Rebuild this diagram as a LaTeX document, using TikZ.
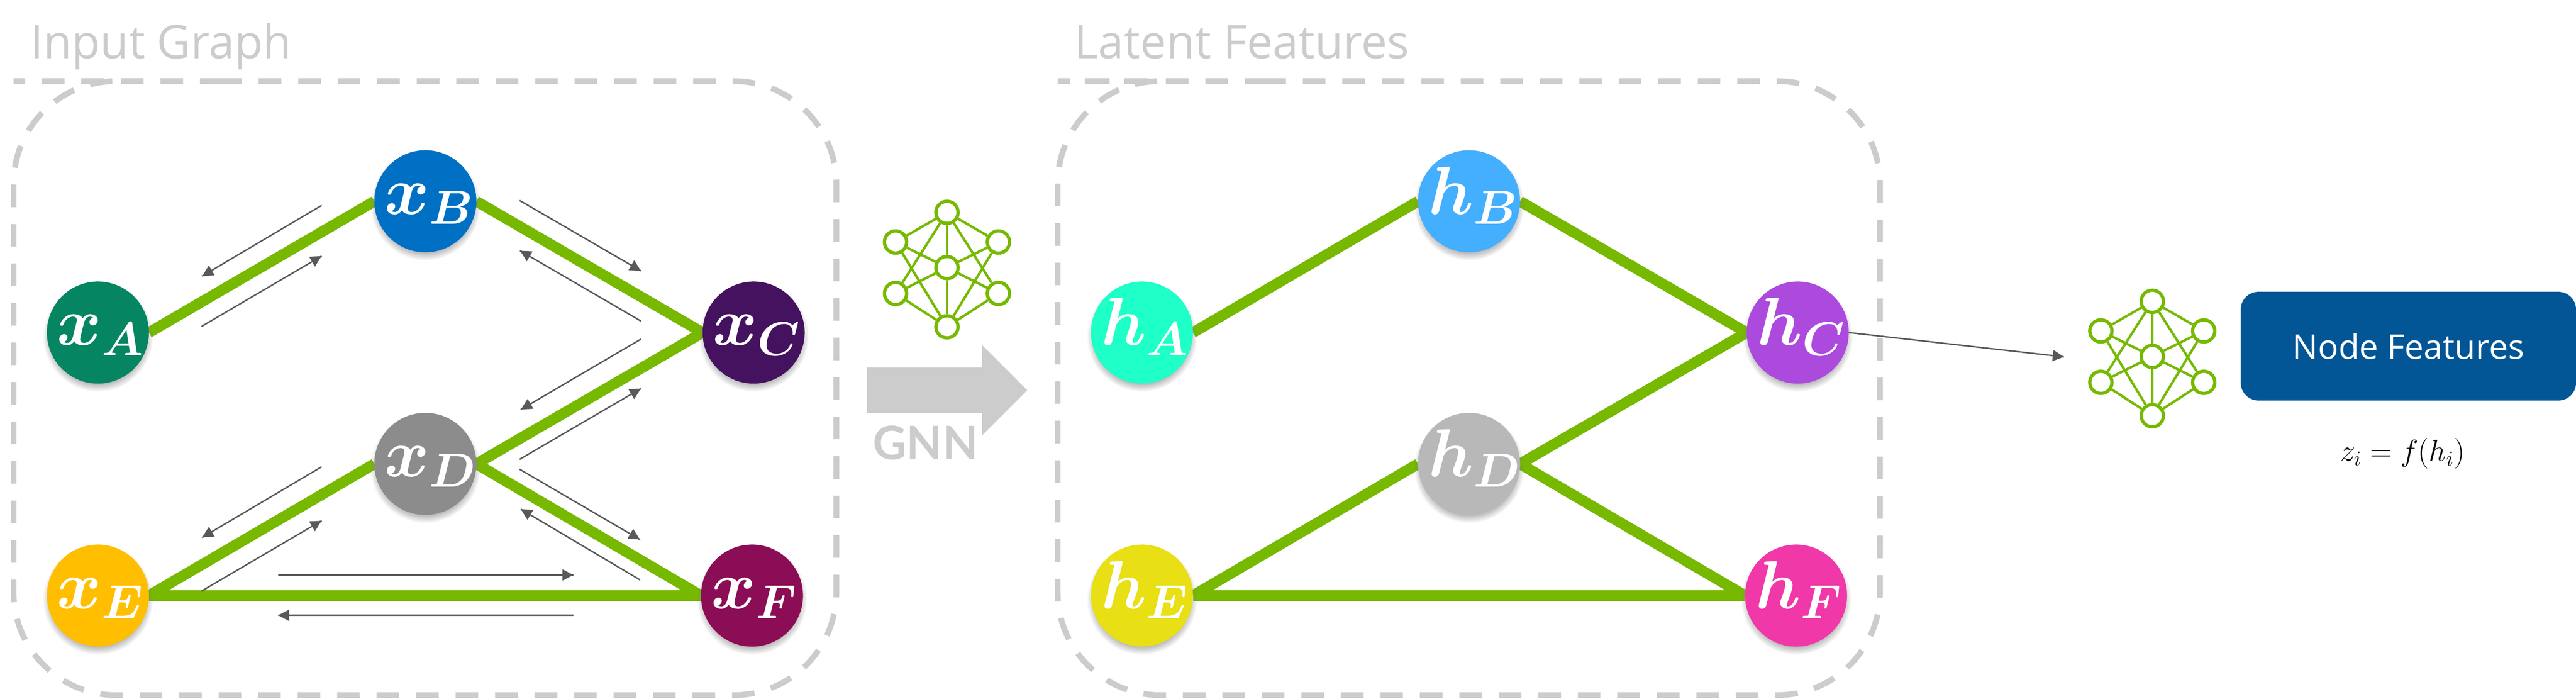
\documentclass[tikz,border=0pt]{standalone}
\usepackage{fix-cm}
\usepackage{amsmath}
\usepackage[no-math]{fontspec}
\usepackage{tikz}
\usetikzlibrary{arrows.meta}
\usetikzlibrary{backgrounds}
\usetikzlibrary{decorations.markings}
\usetikzlibrary{positioning}
\usetikzlibrary{shadows}
\newfontfamily\labelfont{Open Sans}
\newfontfamily\gnnfont{Lato}
\definecolor{nvgreen}{HTML}{76B900}
\definecolor{softgray}{HTML}{CCCCCC}
\definecolor{flowgray}{HTML}{595959}
\definecolor{featblue}{HTML}{025696}
\definecolor{xa}{HTML}{058561}
\definecolor{xb}{HTML}{0070C5}
\definecolor{xc}{HTML}{45125F}
\definecolor{xd}{HTML}{8C8C8C}
\definecolor{xe}{HTML}{FFBF00}
\definecolor{xf}{HTML}{8B0D55}
\definecolor{ha}{HTML}{1FFFC8}
\definecolor{hb}{HTML}{44AEFF}
\definecolor{hc}{HTML}{AC4ADE}
\definecolor{hd}{HTML}{B8B8B8}
\definecolor{he}{HTML}{E8DF14}
\definecolor{hf}{HTML}{F038A8}
\tikzset{flow/.style = {draw=flowgray, line width=.035cm,
                        decoration={markings,
                                    mark=at position 1 with {\arrow[flowgray]{Triangle[length=.27cm, width=.27cm]}}},
                        postaction={decorate}}}
\tikzset{graphnode/.style = {circle, inner sep=0, outer sep=0, minimum size=2.48cm, text=white,
                             font=\fontsize{47}{50}\selectfont\boldmath,
                             circular drop shadow={shadow scale=1.08, shadow xshift=0cm, shadow yshift=-.09cm, opacity=.55}}}
\tikzset{graphedge/.style = {draw=nvgreen, line width=.26cm}}
\tikzset{dashbox/.style = {draw=softgray, line width=.14cm, rounded corners=2.5cm, dash pattern=on .55cm off .41cm}}
\tikzset{boxtitle/.style = {text=softgray, anchor=base west, inner sep=0, font=\labelfont\fontsize{32}{36}\selectfont}}
\tikzset{netnode/.style = {circle, draw=nvgreen, line width=.08cm, fill=white, inner sep=0, minimum size=.54cm}}
\tikzset{netedge/.style = {draw=nvgreen, line width=.06cm}}
\newcommand{\graphlabel}[2]{\smash{\makebox[0pt][l]{\hspace*{-.99cm}\raisebox{-.31cm}{$#1_{#2}$}}}}
\newcommand{\neticon}[3]{%
  \begin{scope}[shift={(#2, #3)}, name prefix=#1-]
    \node [netnode] (top) at (0, -1.34) {};
    \node [netnode] (upl) at (-1.25, -.62) {};
    \node [netnode] (upr) at (1.25, -.62) {};
    \node [netnode] (mid) at (0, 0) {};
    \node [netnode] (lowl) at (-1.25, .63) {};
    \node [netnode] (lowr) at (1.25, .63) {};
    \node [netnode] (bot) at (0, 1.44) {};
    \foreach \a/\b in {top/upl, top/upr, top/mid, top/lowl, top/lowr,
                       mid/upl, mid/upr, mid/lowl, mid/lowr, mid/bot,
                       bot/upl, bot/upr, bot/lowl, bot/lowr}
      \draw [netedge] (\a) -- (\b);
  \end{scope}}

\begin{document}
\begin{tikzpicture}[x=1cm, y=-1cm]
  \useasboundingbox (0, 0) rectangle (62.62, 16.98);

  \node [boxtitle] (inputtitle) at (.74, 1.42) {Input Graph};
  \node [boxtitle] (latenttitle) at (26.11, 1.42) {Latent Features};
  \draw [dashbox] (2.83, 1.97) -- (20.33, 1.97) -- (20.33, 16.89) -- (.33, 16.89) -- (.33, 1.97) -- cycle;
  \draw [dashbox] (28.21, 1.97) -- (45.70, 1.97) -- (45.70, 16.89) -- (25.71, 16.89) -- (25.71, 1.97) -- cycle;

  \node [graphnode, fill=xa] (xA) at (2.38, 8.08) {\graphlabel{x}{A}};
  \node [graphnode, fill=xb] (xB) at (10.34, 4.89) {\graphlabel{x}{B}};
  \node [graphnode, fill=xc] (xC) at (18.32, 8.08) {\graphlabel{x}{C}};
  \node [graphnode, fill=xd] (xD) at (10.34, 11.27) {\graphlabel{x}{D}};
  \node [graphnode, fill=xe] (xE) at (2.38, 14.47) {\graphlabel{x}{E}};
  \node [graphnode, fill=xf] (xF) at (18.28, 14.47) {\graphlabel{x}{F}};

  \node [graphnode, fill=ha] (hA) at (27.76, 8.08) {\graphlabel{h}{A}};
  \node [graphnode, fill=hb] (hB) at (35.71, 4.89) {\graphlabel{h}{B}};
  \node [graphnode, fill=hc] (hC) at (43.70, 8.08) {\graphlabel{h}{C}};
  \node [graphnode, fill=hd] (hD) at (35.71, 11.27) {\graphlabel{h}{D}};
  \node [graphnode, fill=he] (hE) at (27.76, 14.47) {\graphlabel{h}{E}};
  \node [graphnode, fill=hf] (hF) at (43.66, 14.47) {\graphlabel{h}{F}};

  \begin{scope}[on background layer]
    \foreach \p in {x, h} {
      \draw [graphedge] (\p A.east) -- (\p B.west);
      \draw [graphedge] (\p B.east) -- (\p C.west);
      \draw [graphedge] (\p C.west) -- (\p D.east);
      \draw [graphedge] (\p D.west) -- (\p E.east);
      \draw [graphedge] (\p D.east) -- (\p F.west);
      \draw [graphedge] (\p E.east) -- (\p F.west);
    }
  \end{scope}

  % message passing arrows
  \foreach \m/\sx/\sy/\tx/\ty in {ba/7.82/4.99/4.91/6.71, ab/4.90/7.93/7.82/6.22,
                                  bc/12.63/4.87/15.58/6.58, cb/15.58/7.80/12.64/6.09,
                                  cd/15.58/8.24/12.66/9.95, dc/12.63/11.16/15.58/9.44,
                                  de/7.82/11.34/4.91/13.06, ed/4.90/14.36/7.82/12.65,
                                  df/12.63/11.40/15.56/13.11, fd/15.56/14.09/12.66/12.37,
                                  ef/6.76/13.97/13.94/13.97, fe/13.94/14.95/6.76/14.95} {
    \coordinate (\m-from) at (\sx, \sy);
    \coordinate (\m-to) at (\tx, \ty);
    \draw [flow] (\m-from) -- (\m-to);
  }

  \neticon{gnn}{23.02}{6.50}
  \fill [softgray] (21.08, 8.93) -- (23.87, 8.93) -- (23.87, 8.38) -- (24.97, 9.48) -- (23.87, 10.58) -- (23.87, 10.04) -- (21.08, 10.04) -- cycle;
  \node [text=softgray, inner sep=0, anchor=base, font=\gnnfont\bfseries\fontsize{32}{36}\selectfont] (gnnlabel) at (22.50, 11.16) {GNN};

  \neticon{readout}{52.32}{8.66}
  \coordinate (readin) at (50.17, 8.67);
  \draw [flow] (hC.east) -- (readin);

  \node [rectangle, rounded corners=.43cm, fill=featblue, text=white, minimum width=8.15cm, minimum height=2.64cm,
         font=\labelfont\fontsize{23.5}{28}\selectfont] (features) at (58.545, 8.41) {Node Features};
  \node [inner sep=0, anchor=base, font=\fontsize{21}{25}\selectfont] (readoutfn) at (58.40, 11.20) {$z_i = f(h_i)$};
\end{tikzpicture}
\end{document}
